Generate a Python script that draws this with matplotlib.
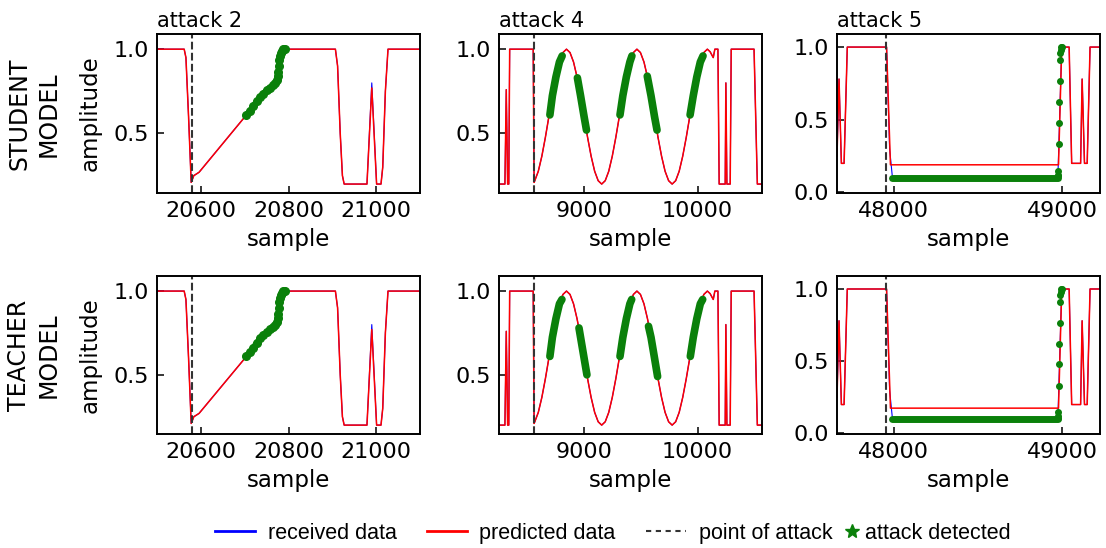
import numpy as np
import matplotlib.pyplot as plt
from matplotlib.lines import Line2D

plt.rcParams['font.family'] = 'DejaVu Sans'

titles = ['attack 2', 'attack 4', 'attack 5']
row_names = ['STUDENT\nMODEL', 'TEACHER\nMODEL']
attack_points = [20579, 8561, 47951]
x_limits = [(20500, 21100), (8252, 10567), (47663, 49223)]
y_limits = [(0.147, 1.09), (0.147, 1.09), (-0.004, 1.09)]
x_ticks = [[20600, 20800, 21000], [9000, 10000], [48000, 49000]]
y_ticks = [[0.5, 1.0], [0.5, 1.0], [0.0, 0.5, 1.0]]

# attack 2: ramp attack
a2_x = [20500, 20562, 20566, 20572, 20578, 20584, 20596, 20704, 20719, 20735, 20750,
        20765, 20773, 20777, 20779, 20782, 20788, 20907, 20912, 20918, 20923, 20927,
        20979, 20990, 21001, 21011, 21015, 21021, 21027, 21100]
a2_recv = [1.0, 1.0, 0.95, 0.6, 0.21, 0.25, 0.27, 0.61, 0.662, 0.717, 0.757,
           0.787, 0.816, 0.865, 0.935, 0.975, 1.0, 1.0, 0.9, 0.5, 0.25, 0.2,
           0.2, 0.8, 0.2, 0.2, 0.3, 0.75, 1.0, 1.0]
a2_pred = [1.0, 1.0, 0.95, 0.6, 0.21, 0.25, 0.27, 0.61, 0.665, 0.72, 0.76,
           0.79, 0.818, 0.865, 0.935, 0.975, 1.0, 1.0, 0.9, 0.5, 0.25, 0.2,
           0.2, 0.77, 0.2, 0.2, 0.3, 0.75, 1.0, 1.0]
a2_det_x = [20704, 20712, 20719, 20727, 20735, 20742, 20750, 20758, 20765, 20770,
            20773, 20775, 20777, 20778, 20779, 20781, 20782, 20785, 20788, 20791]
a2_det_y = [0.61, 0.635, 0.662, 0.69, 0.717, 0.737, 0.757, 0.772, 0.787, 0.8,
            0.816, 0.84, 0.865, 0.9, 0.935, 0.96, 0.975, 0.99, 1.0, 1.0]

# attack 4: sinusoidal attack
a4_x = ([8252, 8304, 8316, 8328, 8338, 8346, 8553, 8561]
        + list(np.arange(8567, 10087, 31))
        + [10110, 10138, 10152, 10179, 10190, 10243, 10249, 10258, 10287, 10296,
           10497, 10526, 10567])
a4_y = ([0.2, 0.2, 0.76, 0.2, 0.2, 1.0, 1.0, 0.21]
        + [0.22, 0.276, 0.365, 0.476, 0.6, 0.724, 0.835, 0.924, 0.98, 1.0,
           0.98, 0.924, 0.835, 0.724, 0.6, 0.476, 0.365, 0.276, 0.22, 0.2,
           0.22, 0.276, 0.365, 0.476, 0.6, 0.724, 0.835, 0.924, 0.98, 1.0,
           0.98, 0.924, 0.835, 0.724, 0.6, 0.476, 0.365, 0.276, 0.22, 0.2,
           0.22, 0.276, 0.365, 0.476, 0.6, 0.724, 0.835, 0.924, 0.98, 1.0]
        + [0.985, 0.95, 1.0, 1.0, 0.2, 0.2, 0.8, 0.2, 0.2, 1.0,
           1.0, 0.2, 0.2])
a4_det_student = [
    ([8700, 8722, 8753, 8784, 8808], [0.61, 0.724, 0.835, 0.924, 0.96]),
    ([8942, 8970, 9001, 9022], [0.83, 0.724, 0.6, 0.52]),
    ([9317, 9342, 9373, 9404, 9422], [0.61, 0.724, 0.835, 0.924, 0.96]),
    ([9557, 9590, 9621, 9643], [0.84, 0.724, 0.6, 0.52]),
    ([9934, 9962, 9993, 10024, 10048], [0.61, 0.724, 0.835, 0.924, 0.96]),
]
a4_det_teacher = [
    ([8700, 8722, 8753, 8784, 8806], [0.61, 0.724, 0.835, 0.924, 0.95]),
    ([8956, 8970, 9001, 9026], [0.78, 0.724, 0.6, 0.5]),
    ([9317, 9342, 9373, 9404, 9420], [0.61, 0.724, 0.835, 0.924, 0.95]),
    ([9568, 9590, 9621, 9648], [0.79, 0.724, 0.6, 0.49]),
    ([9936, 9962, 9993, 10024, 10045], [0.61, 0.724, 0.835, 0.924, 0.95]),
]

# attack 5: constant low value attack
a5_x = [47663, 47675, 47689, 47705, 47724, 47957, 47975, 47992, 48973, 48996,
        49040, 49055, 49108, 49117, 49131, 49147, 49164, 49223]
a5_recv = [0.25, 0.78, 0.2, 0.2, 1.0, 1.0, 0.3, 0.1, 0.1, 1.0,
           1.0, 0.2, 0.2, 0.78, 0.2, 0.2, 1.0, 1.0]
a5_pred_x = [47663, 47675, 47689, 47705, 47724, 47957, 47980, 48977, 48996,
             49040, 49055, 49108, 49117, 49131, 49147, 49164, 49223]
a5_pred_student = [0.25, 0.78, 0.2, 0.2, 1.0, 1.0, 0.19, 0.19, 1.0,
                   1.0, 0.2, 0.2, 0.78, 0.2, 0.2, 1.0, 1.0]
a5_pred_teacher = [0.25, 0.78, 0.2, 0.2, 1.0, 1.0, 0.175, 0.175, 1.0,
                   1.0, 0.2, 0.2, 0.78, 0.2, 0.2, 1.0, 1.0]
a5_band_x = [47990, 48972]
a5_band_y = [0.1, 0.1]
a5_dot_x = [48972, 48974, 48975, 48977, 48979, 48981, 48983, 48985, 48987, 48990, 48994, 48998]
a5_dot_y = [0.11, 0.12, 0.15, 0.33, 0.48, 0.62, 0.765, 0.91, 0.96, 0.98, 1.0, 1.0]

BLUE = '#0000ff'
RED = '#ff0000'
GREEN = '#0a800a'

fig = plt.figure(figsize=(11.06, 5.48), dpi=100)
lefts = [157, 499, 837]
row_bottoms = [193, 434]
row_heights = [159, 158]

for r in range(2):
    for c in range(3):
        ax = fig.add_axes([lefts[c] / 1106, 1 - row_bottoms[r] / 548,
                           263 / 1106, row_heights[r] / 548])
        if c == 0:
            ax.plot(a2_x, a2_recv, color=BLUE, lw=0.8)
            ax.plot(a2_x, a2_pred, color=RED, lw=1.1)
            ax.plot(a2_det_x, a2_det_y, color=GREEN, lw=4, marker='o', ms=5.5,
                    solid_capstyle='round')
        elif c == 1:
            ax.plot(a4_x, a4_y, color=BLUE, lw=0.8)
            ax.plot(a4_x, a4_y, color=RED, lw=1.1)
            segs = a4_det_student if r == 0 else a4_det_teacher
            for sx, sy in segs:
                ax.plot(sx, sy, color=GREEN, lw=5.5, solid_capstyle='round')
        else:
            ax.plot(a5_x, a5_recv, color=BLUE, lw=0.8)
            pred = a5_pred_student if r == 0 else a5_pred_teacher
            ax.plot(a5_pred_x, pred, color=RED, lw=1.1)
            ax.plot(a5_band_x, a5_band_y, color=GREEN, lw=5, solid_capstyle='round')
            ax.plot(a5_dot_x, a5_dot_y, color=GREEN, ls='none', marker='o', ms=4)
        ax.axvline(attack_points[c], color='#333333', ls='--', lw=1.5)

        ax.set_xlim(x_limits[c])
        ax.set_ylim(y_limits[c])
        ax.set_xticks(x_ticks[c])
        ax.set_yticks(y_ticks[c])
        ax.tick_params(direction='in', length=5, width=1.1, labelsize=16, pad=6)
        for s in ax.spines.values():
            s.set_linewidth(1.4)
        ax.set_xlabel('sample', fontsize=16.5, labelpad=5)
        if c == 0:
            ax.set_ylabel('amplitude', fontsize=16.5, labelpad=8)
        if r == 0:
            ax.set_title(titles[c], loc='left', fontsize=15, pad=5)

    fig.text(34 / 1106, 1 - (114 + r * 241) / 548, row_names[r], rotation=90,
             ha='center', va='center', fontsize=17, multialignment='center',
             linespacing=1.3)

leg_font = {'family': 'Liberation Sans', 'size': 15.5}
h1 = [Line2D([], [], color=BLUE, lw=2),
      Line2D([], [], color=RED, lw=2),
      Line2D([], [], color='#333333', ls=(0, (2.5, 2.2)), lw=1.5)]
fig.legend(h1, ['received data', 'predicted data', 'point of attack'],
           loc='center left', bbox_to_anchor=(0.1866, 0.027), ncol=3,
           frameon=False, prop=leg_font, handlelength=1.85, borderaxespad=0,
           handletextpad=0.6, columnspacing=1.4)
h2 = [Line2D([], [], color=GREEN, ls='none', marker='*', ms=10)]
fig.legend(h2, ['attack detected'], loc='center left',
           bbox_to_anchor=(0.757, 0.027), frameon=False, prop=leg_font,
           handlelength=0.6, handletextpad=0.3, borderaxespad=0)

fig.savefig('out.png', dpi=100)
